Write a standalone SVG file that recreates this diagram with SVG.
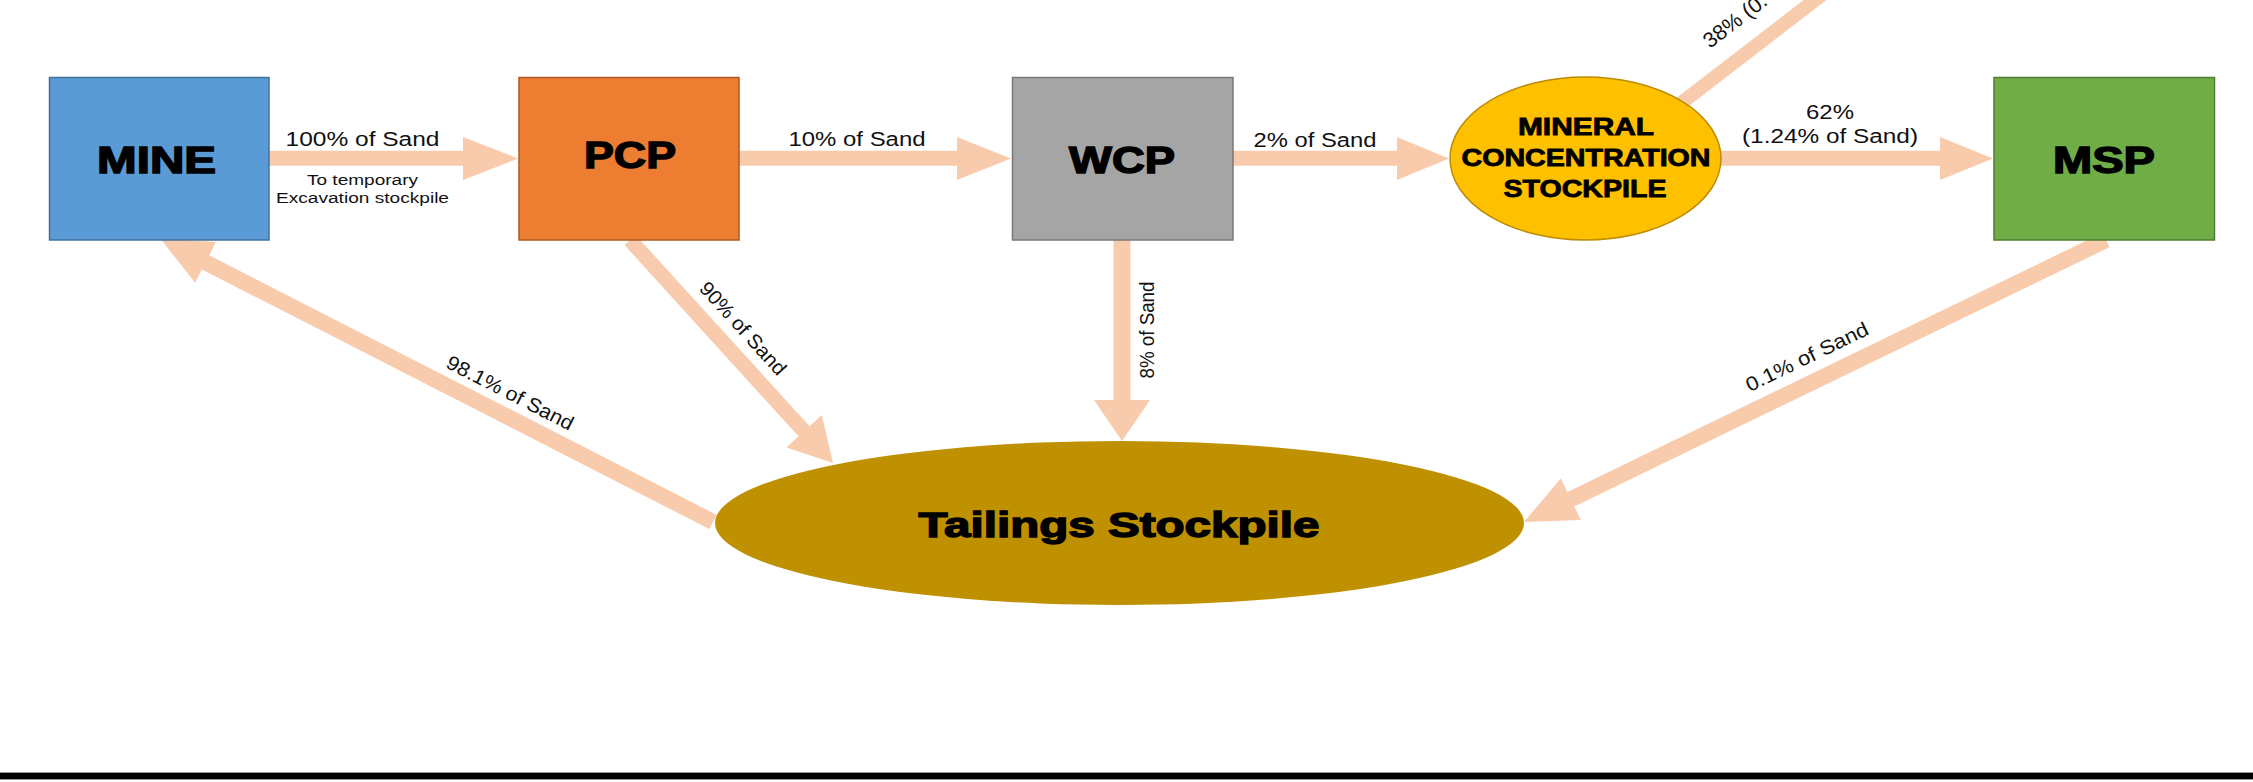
<svg xmlns="http://www.w3.org/2000/svg" width="2253" height="782" viewBox="0 0 2253 782">
  <style>
    .arrow { fill: #F8CBAD; stroke: none; }
    .lbl { font-family: "Liberation Sans", Arial, sans-serif; font-size: 20px; fill: #111; text-anchor: middle; }
    .lbls { font-family: "Liberation Sans", Arial, sans-serif; font-size: 15.5px; fill: #111; text-anchor: middle; }
    .rlbl { font-family: "Liberation Sans", Arial, sans-serif; font-size: 20px; fill: #111; text-anchor: middle; }
    .big { font-family: "Liberation Sans", Arial, sans-serif; font-weight: bold; font-size: 36px; fill: #000; stroke: #000; stroke-width: 1.4px; text-anchor: middle; }
    .mid { font-family: "Liberation Sans", Arial, sans-serif; font-weight: bold; font-size: 23px; fill: #000; stroke: #000; stroke-width: 0.8px; text-anchor: middle; }
  </style>
  <rect x="0" y="0" width="2253" height="782" fill="#ffffff"/>

  <g id="connectors">
    <g id="c-mine-pcp">
      <polygon class="arrow" points="269,150.7 463,150.7 463,137 518,158.5 463,180 463,165.7 269,165.7"/>
      <text class="lbl" x="362.5" y="146" textLength="154" lengthAdjust="spacingAndGlyphs">100% of Sand</text>
      <text class="lbls" x="362.5" y="185" textLength="111" lengthAdjust="spacingAndGlyphs">To temporary</text>
      <text class="lbls" x="362.5" y="203" textLength="173" lengthAdjust="spacingAndGlyphs">Excavation stockpile</text>
    </g>
    <g id="c-pcp-wcp">
      <polygon class="arrow" points="739,150.7 957,150.7 957,137 1011,158.5 957,180 957,165.7 739,165.7"/>
      <text class="lbl" x="857" y="146" textLength="137" lengthAdjust="spacingAndGlyphs">10% of Sand</text>
    </g>
    <g id="c-wcp-mineral">
      <polygon class="arrow" points="1233,150.7 1397,150.7 1397,137 1449,158.5 1397,180 1397,165.7 1233,165.7"/>
      <text class="lbl" x="1315" y="147" textLength="123" lengthAdjust="spacingAndGlyphs">2% of Sand</text>
    </g>
    <g id="c-mineral-msp">
      <polygon class="arrow" points="1719,150.7 1940,150.7 1940,137 1993,158.5 1940,180 1940,165.7 1719,165.7"/>
      <text class="lbl" x="1830" y="119" textLength="48" lengthAdjust="spacingAndGlyphs">62%</text>
      <text class="lbl" x="1830" y="143" textLength="176" lengthAdjust="spacingAndGlyphs">(1.24% of Sand)</text>
    </g>
    <g id="c-mineral-out">
      <polygon class="arrow" transform="translate(1680,104) rotate(-37.6)" points="0,-7 200,-7 200,7 0,7"/>
      <text class="rlbl" style="text-anchor:start;font-size:21.5px" transform="translate(1710,49) rotate(-37.6)">38% (0.</text>
    </g>
    <g id="c-wcp-tailings">
      <polygon class="arrow" points="1113.5,240 1130.5,240 1130.5,400 1150,400 1122,441 1094,400 1113.5,400"/>
      <text class="rlbl" transform="translate(1154,330) rotate(-90)" textLength="97" lengthAdjust="spacingAndGlyphs">8% of Sand</text>
    </g>
    <g id="c-pcp-tailings">
      <polygon class="arrow" transform="translate(630,240) rotate(47.7)" points="0,-7.5 258.6,-7.5 258.6,-24 301.6,0 258.6,24 258.6,7.5 0,7.5"/>
      <text class="rlbl" transform="translate(738,333) rotate(47.7)" textLength="118" lengthAdjust="spacingAndGlyphs">90% of Sand</text>
    </g>
    <g id="c-tailings-mine">
      <polygon class="arrow" transform="translate(713,522) rotate(207.1)" points="0,-8 570,-8 570,-23 620,0 570,23 570,8 0,8"/>
      <text class="rlbl" transform="translate(507,399) rotate(27.1)" textLength="140" lengthAdjust="spacingAndGlyphs">98.1% of Sand</text>
    </g>
    <g id="c-msp-tailings">
      <polygon class="arrow" transform="translate(2106,240) rotate(154.15)" points="0,-8 594.7,-8 594.7,-23 646.7,0 594.7,23 594.7,8 0,8"/>
      <text class="rlbl" transform="translate(1810,363) rotate(-25.85)" textLength="134" lengthAdjust="spacingAndGlyphs">0.1% of Sand</text>
    </g>
  </g>

  <g id="node-mine">
    <rect x="49.5" y="77.5" width="219.5" height="162.5" fill="#5B9BD5" stroke="#41719C" stroke-width="1.5"/>
    <text class="big" x="156.5" y="173" textLength="119" lengthAdjust="spacingAndGlyphs">MINE</text>
  </g>
  <g id="node-pcp">
    <rect x="519" y="77.5" width="220" height="162.5" fill="#ED7D31" stroke="#AE5A21" stroke-width="1.5"/>
    <text class="big" x="630" y="168" textLength="92" lengthAdjust="spacingAndGlyphs">PCP</text>
  </g>
  <g id="node-wcp">
    <rect x="1012.5" y="77.5" width="220.5" height="162.5" fill="#A5A5A5" stroke="#787878" stroke-width="1.5"/>
    <text class="big" x="1122" y="173" textLength="106" lengthAdjust="spacingAndGlyphs">WCP</text>
  </g>
  <g id="node-mineral">
    <ellipse cx="1585.5" cy="158.5" rx="135.5" ry="81.5" fill="#FFC000" stroke="#BC8C00" stroke-width="1.5"/>
    <text class="mid" x="1586" y="135" textLength="136" lengthAdjust="spacingAndGlyphs">MINERAL</text>
    <text class="mid" x="1586" y="166" textLength="249" lengthAdjust="spacingAndGlyphs">CONCENTRATION</text>
    <text class="mid" x="1585" y="197" textLength="163" lengthAdjust="spacingAndGlyphs">STOCKPILE</text>
  </g>
  <g id="node-msp">
    <rect x="1994" y="77.5" width="220.5" height="162.5" fill="#70AD47" stroke="#507E32" stroke-width="1.5"/>
    <text class="big" x="2104" y="173" textLength="102" lengthAdjust="spacingAndGlyphs">MSP</text>
  </g>
  <g id="node-tailings">
    <ellipse cx="1119.5" cy="523" rx="404.5" ry="82" fill="#BF9000"/>
    <text class="big" style="font-size:35px" x="1119" y="537" textLength="401" lengthAdjust="spacingAndGlyphs">Tailings Stockpile</text>
  </g>

  <g id="bottom-rule">
    <rect x="0" y="772" width="2253" height="1" fill="#9a9a9a"/>
    <rect x="0" y="773" width="2253" height="6" fill="#000"/>
    <rect x="0" y="779" width="2253" height="1" fill="#9a9a9a"/>
  </g>
</svg>
